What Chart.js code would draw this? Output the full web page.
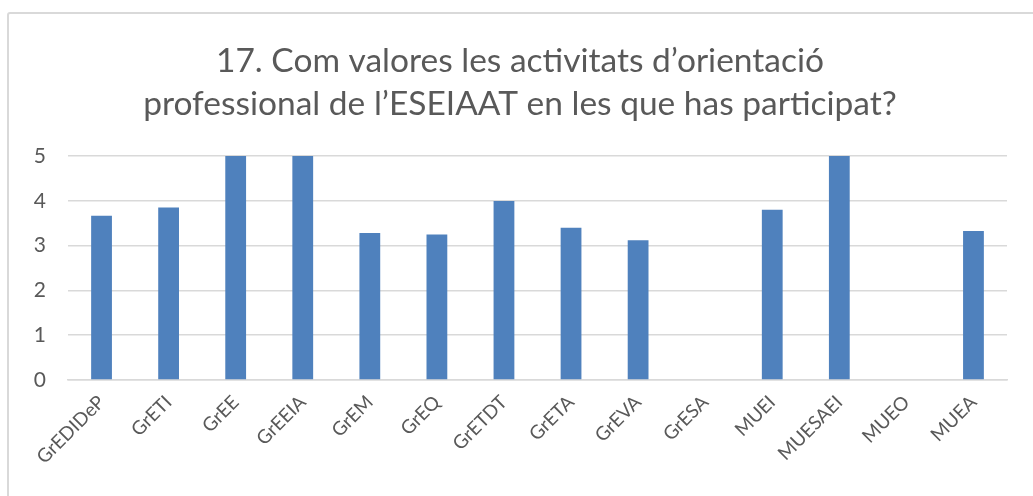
<!DOCTYPE html>
<html>
<head>
<meta charset="utf-8">
<script src="https://cdn.jsdelivr.net/npm/chart.js@4"></script>
<style>
  body { margin: 0; background: #fff; }
  #frame { position: absolute; left: 7px; top: 12px; width: 1100px; height: 600px; border: 2px solid #d9d9d9; border-radius: 3px; }
  #wrap { position: absolute; left: 0; top: 0; width: 1033px; height: 496px; }
</style>
</head>
<body>
<div id="frame"></div>
<div id="wrap"><canvas id="graph"></canvas></div>
<script>
var titleLines = [
  '17. Com valores les activitats d\u2019orientació',
  'professional de l\u2019ESEIAAT en les que has participat?'
];

var labels = ['GrEDIDeP', 'GrETI', 'GrEE', 'GrEEIA', 'GrEM', 'GrEQ', 'GrETDT',
  'GrETA', 'GrEVA', 'GrESA', 'MUEI', 'MUESAEI', 'MUEO', 'MUEA'];

var values = [3.67, 3.85, 5, 5, 3.28, 3.25, 4, 3.4, 3.12, null, 3.8, 5, null, 3.33];

var yTicks = [0, 1, 2, 3, 4, 5];

var fontName = 'Lato, "Open Sans", sans-serif';
var textColor = '#595959';
var gridColor = '#d9d9d9';

var data = {
  labels: labels,
  datasets: [{
    data: values,
    backgroundColor: '#4f81bd',
    borderWidth: 0,
    categoryPercentage: 0.31,
    barPercentage: 1
  }]
};

var config = {
  type: 'bar',
  data: data,
  options: {
    responsive: false,
    animation: false,
    layout: { padding: { left: 33, right: 26, top: 0, bottom: 0 } },
    plugins: {
      legend: { display: false },
      tooltip: { enabled: false },
      title: {
        display: true,
        text: titleLines,
        color: textColor,
        font: { family: fontName, size: 33.5, weight: 'normal', lineHeight: 1.3 },
        padding: { top: 39, bottom: 30 }
      }
    },
    scales: {
      x: {
        grid: { display: false },
        border: { color: gridColor, width: 1.5 },
        ticks: {
          color: textColor,
          font: { family: fontName, size: 19 },
          minRotation: 45,
          maxRotation: 45,
          autoSkip: false,
          padding: 3
        },
        afterFit: function (scale) { scale.height = 116; }
      },
      y: {
        min: 0,
        max: 5,
        afterBuildTicks: function (scale) {
          scale.ticks = yTicks.map(function (v) { return { value: v }; });
        },
        grid: { color: gridColor, lineWidth: 1.5, drawTicks: false },
        border: { display: false },
        ticks: {
          color: textColor,
          font: { family: fontName, size: 21 },
          padding: 22
        },
        afterFit: function (scale) { scale.width = 35; }
      }
    }
  }
};

var canvas = document.getElementById('graph');
canvas.width = 1033;
canvas.height = 496;
var graph = new Chart(canvas, config);
</script>
</body>
</html>
